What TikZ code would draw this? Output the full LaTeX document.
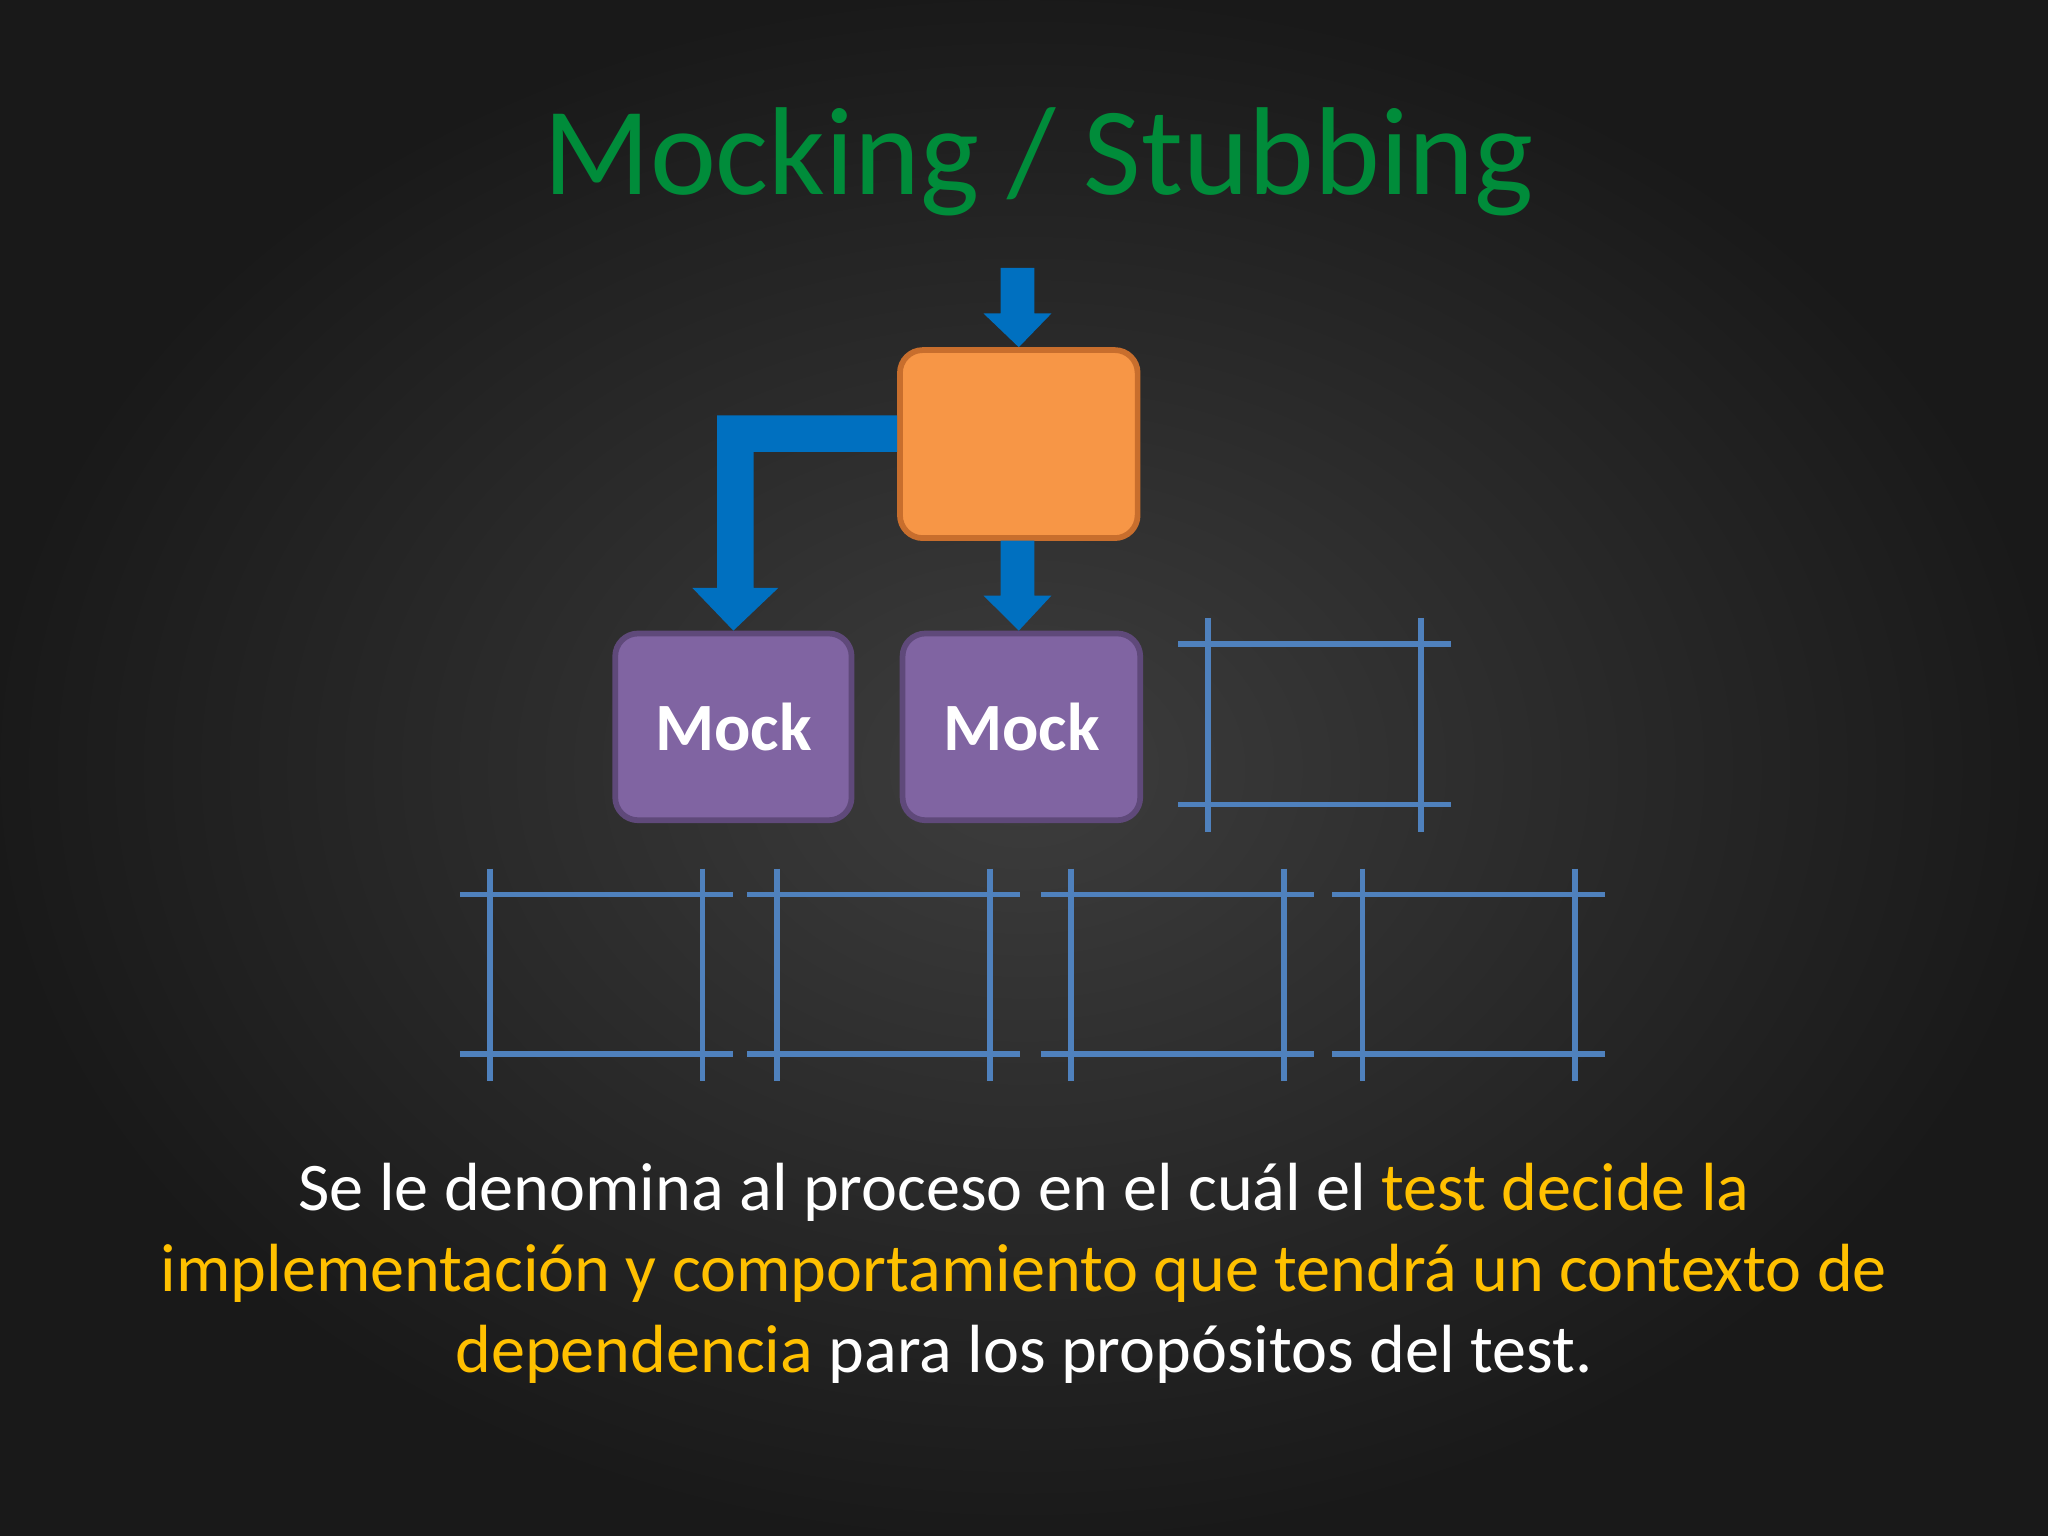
\documentclass[tikz,border=0pt]{standalone}
\usepackage{fontspec}
\setmainfont{Carlito}
\definecolor{ttl}{RGB}{0,140,58}
\definecolor{blu}{RGB}{0,112,192}
\definecolor{org}{RGB}{247,150,70}
\definecolor{orgd}{RGB}{200,110,45}
\definecolor{pur}{RGB}{128,100,162}
\definecolor{purd}{RGB}{95,73,122}
\definecolor{grd}{RGB}{79,129,189}
\definecolor{yel}{RGB}{255,192,0}
\begin{document}
\begin{tikzpicture}[x=0.02cm,y=-0.02cm,
 box/.style={draw,line width=2.5pt,rounded corners=0.35cm,inner sep=0pt},
 gl/.style={grd,line width=2.4pt},
 arr/.style={fill=blu}]
\shade[inner color=black!76,outer color=black!90] (0,0) rectangle (1568,1176);
\useasboundingbox (0,0) rectangle (1568,1176);
\node[ttl,font=\fontsize{54.5}{60}\selectfont] (title) at (795,124) {Mocking / Stubbing};
\node[box,draw=orgd,fill=org,minimum width=3.64cm,minimum height=2.88cm] (o) at (780,340) {};
\node[box,draw=purd,fill=pur,minimum width=3.62cm,minimum height=2.86cm,text=white,font=\bfseries\fontsize{29.5}{30}\selectfont] (m1) at (561.5,556.5) {Mock};
\node[box,draw=purd,fill=pur,minimum width=3.64cm,minimum height=2.86cm,text=white,font=\bfseries\fontsize{29.5}{30}\selectfont] (m2) at (782,556.5) {Mock};
% arrows
\coordinate (a0) at (779,205);
\fill[arr] (766,205) -- (792,205) -- (792,240) -- (805,240) -- (o.north) -- (753,240) -- (766,240) -- cycle;
\fill[arr] (766,414) -- (792,414) -- (792,456) -- (805,456) -- (m2.north-|o.south) -- (753,456) -- (766,456) -- cycle;
\fill[arr] (o.west|-0,318) -- (549,318) -- (549,450) -- (530,450) -- (m1.north) -- (596,450) -- (577,450) -- (577,346) -- (o.west|-0,346) -- cycle;
% grids
\foreach \a/\b/\c/\d/\t/\u in {902/1111/925/1088/493/616, 352/561/375/538/685/807, 572/781/595/758/685/807, 797/1006/820/983/685/807, 1020/1229/1043/1206/685/807}{
 \draw[gl] (\a,\t) -- (\b,\t); \draw[gl] (\a,\u) -- (\b,\u);
 \draw[gl] (\c,\t-20) -- (\c,\u+21); \draw[gl] (\d,\t-20) -- (\d,\u+21);
}
\node[white,font=\fontsize{29.7}{35.2}\selectfont,align=center] (txt) at (784,975) {Se le denomina al proceso en el cuál el \textcolor{yel}{test decide la}\\ \textcolor{yel}{implementación y comportamiento que tendrá un contexto de}\\ \textcolor{yel}{dependencia} para los propósitos del test.};
\end{tikzpicture}
\end{document}
